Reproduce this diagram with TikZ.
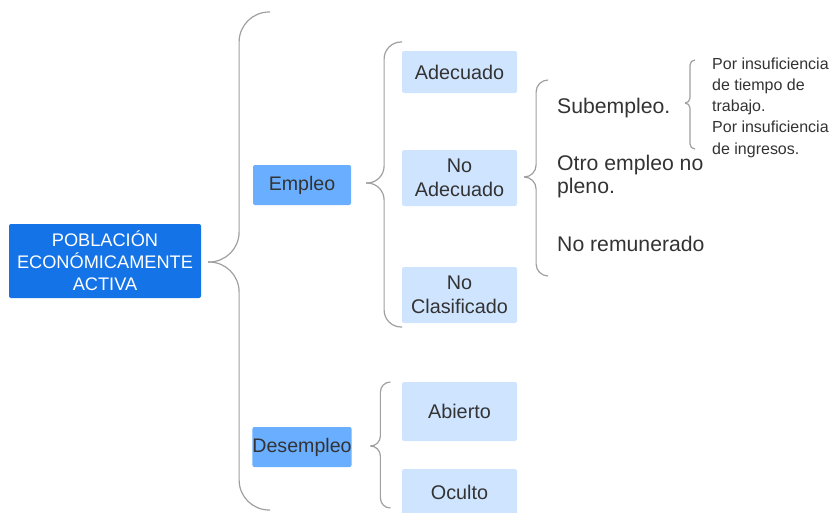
\documentclass[tikz,border=0pt]{standalone}
\usepackage{fontspec}
\setmainfont{Liberation Sans}
\usetikzlibrary{calc}
\definecolor{azulosc}{HTML}{1473E6}
\definecolor{azulmed}{HTML}{6AAFFF}
\definecolor{azulcla}{HTML}{CFE4FF}
\definecolor{textogris}{HTML}{333333}
\definecolor{llavegris}{HTML}{A0A0A0}
\tikzstyle{principal} = [rectangle, rounded corners=2pt, minimum width=192pt,
minimum height=74pt, align=center, inner sep=0pt, fill=azulosc, text=white,
font=\fontsize{18.2}{22}\selectfont]
\tikzstyle{rama} = [rectangle, rounded corners=2pt, minimum width=98pt,
minimum height=40pt, inner sep=0pt, fill=azulmed, text=textogris,
font=\fontsize{19.6}{24}\selectfont]
\tikzstyle{hoja} = [rectangle, rounded corners=2pt, minimum width=115pt,
align=center, inner sep=0pt, fill=azulcla, text=textogris,
font=\fontsize{19.8}{24}\selectfont]
\tikzstyle{texto} = [anchor=base west, align=left, inner sep=0pt, text=textogris,
font=\fontsize{21.2}{22.5}\selectfont]
\tikzstyle{nota} = [anchor=base west, align=left, inner sep=0pt, text=textogris,
font=\fontsize{16}{21.25}\selectfont]
\tikzstyle{llave} = [draw=llavegris, line width=1.2pt]
% #1 radio, #2 punta, #3 extremo de arriba, #4 extremo de abajo
\newcommand{\llave}[4][8pt]{%
  \draw [llave, rounded corners=#1] (#3) -| ($(#2)!.5!(#2 -| #3)$) -- (#2);
  \draw [llave, rounded corners=#1] (#4) -| ($(#2)!.5!(#2 -| #4)$) -- (#2);
}

\begin{document}
\begin{tikzpicture}[x=1pt, y=-1pt]
  \useasboundingbox (0,0) rectangle (838,512);

  \node (pea) [principal] at (105,261) {POBLACIÓN\\ECONÓMICAMENTE\\ACTIVA};

  \node (empleo) [rama] at (302,185) {Empleo};
  \node (desempleo) [rama] at (302,447) {Desempleo};

  \node (adecuado) [hoja, minimum height=42pt] at (459.5,72) {Adecuado};
  \node (noadecuado) [hoja, minimum height=56pt] at (459.5,178) {No\\Adecuado};
  \node (noclasif) [hoja, minimum height=56pt] at (459.5,295) {No\\Clasificado};
  \node (abierto) [hoja, minimum height=59pt] at (459.5,411.5) {Abierto};
  \node (oculto) [hoja, minimum height=46pt] at (459.5,492) {Oculto};

  % base = ultima linea
  \node (subempleo) [texto] at (557,113) {Subempleo.};
  \node (otro) [texto] at (557,193) {Otro empleo no\\pleno.};
  \node (noremun) [texto] at (557,251) {No remunerado};
  \node (insuf) [nota] at (712,154) {Por insuficiencia\\de tiempo de\\trabajo.\\Por insuficiencia\\de ingresos.};

  % llaves
  \coordinate (t1) at ($(pea.east)+(7,1)$);
  \coordinate (a1) at (270,12);
  \coordinate (b1) at (270,510);
  \llave[30pt]{t1}{a1}{b1}

  \coordinate (t2) at ($(empleo.east)+(15,-2)$);
  \coordinate (a2) at (402,42);
  \coordinate (b2) at (402,327);
  \llave[17pt]{t2}{a2}{b2}

  \coordinate (t3) at ($(noadecuado.east)+(7,-1)$);
  \coordinate (a3) at (548,80);
  \coordinate (b3) at (548,276);
  \llave[12pt]{t3}{a3}{b3}

  \coordinate (t4) at (685,103);
  \coordinate (a4) at (695,60);
  \coordinate (b4) at (695,149);
  \llave[5pt]{t4}{a4}{b4}

  \coordinate (t5) at ($(desempleo.east)+(19,-1)$);
  \coordinate (a5) at (390,382);
  \coordinate (b5) at (390,508);
  \llave[10pt]{t5}{a5}{b5}
\end{tikzpicture}
\end{document}
